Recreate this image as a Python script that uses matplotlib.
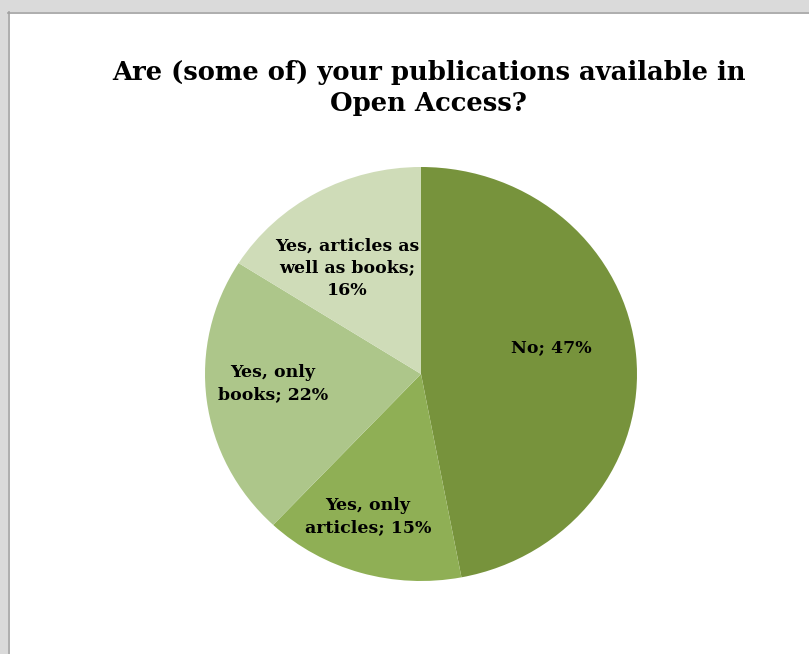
#!/usr/bin/env python3
"""
Pie chart: Open Access availability of publications
"""

import matplotlib
matplotlib.use('Agg')
import matplotlib.pyplot as plt
from matplotlib.patches import Rectangle
from matplotlib.lines import Line2D

categories = ['No', 'Yes, only\narticles', 'Yes, only\nbooks', 'Yes, articles as\nwell as books']
shares = [47, 15, 22, 16]
colors = ['#77933c', '#8faf55', '#adc68a', '#cfdcb8']

# label anchors in axes fraction
label_pos = [(0.801, 0.563), (0.377, 0.155), (0.157, 0.478), (0.329, 0.756)]
label_sep = ['; ', '; ', '; ', ';\n']

W, H = 809, 654
fig = plt.figure(figsize=(W / 100, H / 100), dpi=100)
fig.patch.set_facecolor('white')

# grey window edge at top and left
fig.add_artist(Rectangle((0, 1 - 12 / H), 1, 12 / H, transform=fig.transFigure,
                         facecolor='#dadada', edgecolor='none'))
fig.add_artist(Rectangle((0, 0), 8 / W, 1, transform=fig.transFigure,
                         facecolor='#dadada', edgecolor='none'))
fig.add_artist(Line2D([8 / W, 1], [1 - 12.5 / H, 1 - 12.5 / H], transform=fig.transFigure,
                      color='#a0a0a0', lw=1.2))
fig.add_artist(Line2D([8.5 / W, 8.5 / W], [0, 1 - 12 / H], transform=fig.transFigure,
                      color='#a0a0a0', lw=1.2))

ax = fig.add_axes([205 / W, (H - 581) / H, 432 / W, 414 / H])
wedges, _ = ax.pie(shares, colors=colors, startangle=90, counterclock=False,
                   wedgeprops=dict(linewidth=0))
ax.set_aspect('auto')
ax.set_xlim(-1, 1)
ax.set_ylim(-1, 1)

for cat, val, sep, (x, y) in zip(categories, shares, label_sep, label_pos):
    ax.text(x, y, f'{cat}{sep}{val}%', transform=ax.transAxes, ha='center', va='center',
            fontsize=12.5, fontweight='bold', family='DejaVu Serif', linespacing=1.4,
            color='black')

fig.text(0.530, 0.865, 'Are (some of) your publications available in\nOpen Access?',
         ha='center', va='center', fontsize=18.6, fontweight='bold', family='DejaVu Serif',
         linespacing=1.28)

fig.savefig('out.png', dpi=100)
